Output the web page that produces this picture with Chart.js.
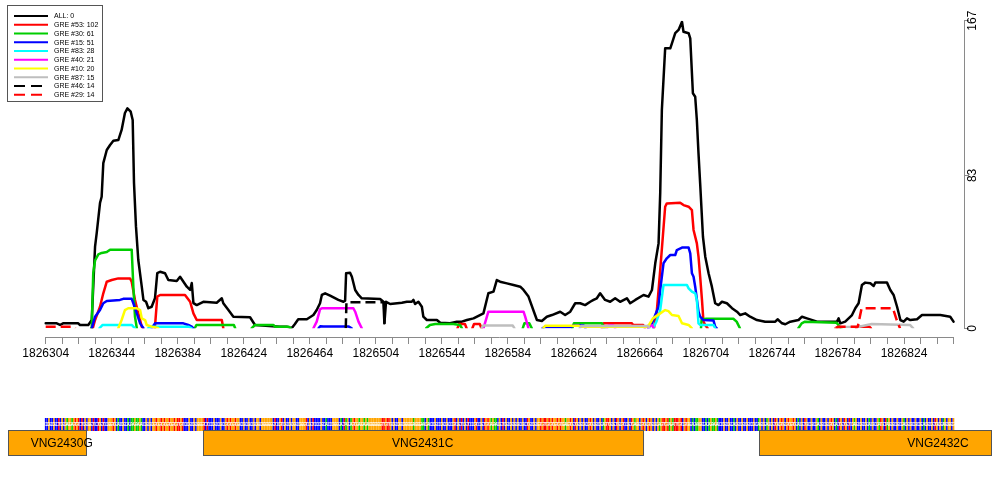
<!DOCTYPE html>
<html><head><meta charset="utf-8">
<script src="https://cdn.jsdelivr.net/npm/chart.js@4.4.1/dist/chart.umd.min.js"></script>
<style>html,body{margin:0;padding:0;background:#fff}#wrap{width:1000px;height:500px;position:relative}</style>
</head><body><div id="wrap"><canvas id="c" width="1000" height="500"></canvas></div>
<script>
// ---------- DATA ----------
const START = 1826304;                 // genomic position of window start (offsets below are bp from START)
const xTickLabels = [1826304,1826344,1826384,1826424,1826464,1826504,1826544,1826584,1826624,1826664,1826704,1826744,1826784,1826824];
const xTickFirst = 1826304, xTickLast = 1826854, xTickStep = 10;
const yTicks = [0, 83, 167];

const seriesNames  = ['ALL','GRE #53','GRE #30','GRE #15','GRE #83','GRE #40','GRE #10','GRE #87','GRE #46','GRE #29'];
const seriesCounts = [0,102,61,51,28,21,20,15,14,14];

// [offset bp, coverage] ; each inner array is one continuous segment
const allCurve = [[[0,2.7],[6.7,2.7],[8.7,1.8],[10.5,2.7],[19.6,2.7],[20.8,1.8],[25.8,1.8],[27.9,4.5],[29.9,44.3],[30.9,51.7],[32.9,68],[33.9,71.4],[34.9,89.7],[37,96.8],[39,99.5],[41,101.8],[44,102.2],[46,107.7],[48,116.9],[49.5,119.4],[51.5,117.6],[52.7,113.1],[53.5,78.9],[54.7,55.2],[56.1,37.1],[58.2,22.6],[59.2,15.4],[60.8,14.4],[62.2,10.9],[64.2,11.7],[66.2,16.3],[67.6,29.9],[69.3,30.7],[72.3,29.9],[74.3,26.2],[79.4,25.7],[81.4,28],[85.5,22.6],[87.5,20.8],[88.5,24.6],[89.5,13.7],[91.5,12.6],[95.5,14.4],[103.6,13.9],[106.7,16.3],[107.6,13.6],[110.7,9.9],[113.7,6.3],[123.8,6],[126.8,1.8],[141.9,0.8],[146,0.9],[149,0],[151,2.3],[153,4.9],[158.2,4.9],[162.2,7.2],[164.2,9.9],[166.2,13.6],[167.3,18.1],[169.3,19],[172.3,17.7],[177.3,15.4],[180.4,14.4],[181.4,15],[182,29.9],[184.4,30.2],[185.5,28],[187.5,20.8],[189.5,18.1],[191.5,16.3],[202.6,15.9],[204.6,14.4],[205.2,2.7],[206.2,14.4],[208.7,13.2],[215.8,13.9],[218.8,14.4],[221.8,14.4],[222.8,15.4],[223.8,13.2],[225.8,14.4],[227.9,11.7],[228.8,6.3],[230.9,4.5],[237,4.5],[239,3],[245,2.7],[249.1,3.6],[252.1,3.6],[255.2,4.5],[259.2,5.4],[265.2,8.1],[268.2,19],[271.3,19.9],[273.3,26.2],[275.3,25.3],[279.4,24.4],[283.4,23.5],[287.5,22.6],[289.5,20.8],[292.5,17.2],[296.5,7.2],[297.6,4.5],[300.6,4],[303.6,6.3],[306.7,7.2],[311.7,9],[314.7,7.2],[317.8,9],[320.8,13.6],[323.8,13.6],[326.8,12.6],[329.9,14.4],[331.9,15.4],[333.9,16.3],[335.9,19],[338.9,15.4],[342,14.4],[345,16.3],[348,14.4],[352.1,16.3],[354.1,13.6],[357.2,15.4],[362.2,18.1],[365.2,17.2],[367.3,20.8],[369.3,35.3],[371.3,46.1],[372.3,73.3],[373.3,118.5],[375.3,152],[378.4,152],[379.4,154.7],[381.4,160.2],[383.4,162],[385.5,166.4],[386.4,161],[389.5,160.2],[390.5,157.4],[392.1,127.6],[393.5,125.7],[394.5,113.1],[395.5,95],[396.5,78.7],[398.2,49.7],[399.6,38.9],[401.6,29.9],[403.6,22.6],[405.6,13.6],[407.6,12.6],[409.7,14.4],[412.7,13.6],[415.8,10.9],[418.8,9],[420.8,7.2],[423.8,8.1],[426.8,6.3],[430.9,4.5],[435.9,3.6],[442,3.6],[443.4,4.9],[446.1,2.7],[448.1,2.2],[451.1,3.6],[456.1,4.5],[458.2,6.3],[461.2,5.4],[467.3,3.6],[479.4,3.6],[480.4,5.4],[481.4,2.7],[484.4,3.6],[488.5,7.2],[490.5,10.9],[492.5,13.6],[494.5,23.5],[496.5,24.8],[499.6,24.4],[501.6,23],[502.6,24.8],[509.7,24.8],[511.7,20.8],[513.7,18.1],[515.8,11.7],[517.8,4.5],[519.8,3.6],[521.8,5.4],[523.8,4.5],[527.9,4.9],[530.9,7.2],[542,7.2],[548,6.3],[550,3.6]]];

const gre53 = [
  [[28.5,0],[29.9,4.5],[32.9,11.7],[34.9,19],[37,25.3],[40,26.2],[44,27.1],[51.1,27.1],[52.1,25.3],[54.1,15.4],[56.1,8.1],[58.2,0.9],[59,0]],
  [[66,0],[66.2,0.9],[67.6,17.2],[69.3,18.1],[84.4,18.1],[87.5,14.4],[89.5,8.1],[91.5,4.5],[106.7,4.5],[107.6,0]],
  [[249.5,0],[250.5,2.3],[254,2.3],[255,0]],
  [[258.5,0],[259.5,2.3],[263,2.3],[264,0]],
  [[337,0],[338,2.8],[355,2.8],[356,1.8],[362,1.8],[363,0]],
  [[368.5,0],[370.3,9.9],[372.3,31.6],[375.3,66],[376.3,67.8],[384.4,68.2],[386.4,66.9],[389.5,66],[391.5,64.2],[392.5,53.4],[394.5,46.1],[395.5,38.9],[396.5,28],[397.6,15.4],[398.5,3.6],[399.6,1.8],[401,0]],
  [[478.5,0],[479.5,0.7],[481,0]],
  [[491,0],[492,0.9],[499,0.9],[500,0]]
];
const gre30 = [
  [[27.5,0],[27.9,0.9],[28.8,29.9],[29.9,36.8],[31.9,40.1],[33.9,40.9],[37,41.4],[39,42.7],[52.1,42.7],[53.1,22.6],[54.1,6.3],[55.2,0]],
  [[90.3,0],[91.3,1.8],[114,1.8],[114.8,0]],
  [[124.7,0],[126.8,1.8],[137.9,1.8],[138.9,0.9],[147,0.9],[148.5,0]],
  [[230.5,0],[232.8,1.8],[236,2.3],[247,2.3],[251,1.8],[252.2,0]],
  [[289,0],[290,2.7],[293,2.7],[294.5,0]],
  [[319,0],[320,2.7],[337,2.7],[338.5,0]],
  [[397,0],[397.4,4.9],[400.4,5.2],[416.6,5.2],[418.6,3.6],[420.6,0]],
  [[456,0],[458,2.7],[460,3.6],[479.2,3.0],[481.2,0.7],[482,0]]
];
const gre15 = [
  [[27.9,0],[29.9,6.3],[32.9,9.9],[34.9,13.6],[37,14.8],[45,15.4],[47,16],[52.1,16],[53.1,13.6],[55.2,8.1],[57.2,2.7],[59.2,0]],
  [[64.2,0],[66.2,2.7],[83.4,2.7],[86.4,1.8],[88.5,0.9],[89.5,0]],
  [[165.3,0],[166.3,1.1],[168.3,1],[183.4,1],[185.4,0]],
  [[301,0],[302,0.6],[318,0.6],[319.5,1.5],[326,1.5],[327,0]],
  [[365,0],[367.3,2.7],[369.3,7.2],[371.3,11.7],[372.3,20.8],[374.3,35.3],[376.3,38],[378.4,39.8],[381.4,39.8],[382.4,42.5],[385.5,43.8],[389.5,43.8],[390.5,40.7],[391.5,29.9],[392.5,28],[393.5,22.6],[395.5,9],[396.5,6.3],[398.5,4.5],[404.6,4.2],[405.6,0.9],[406.6,0]]
];
const gre83 = [
  [[32.5,0],[34.5,1.8],[52.1,1.8],[54.1,0]],
  [[62,0],[64.2,0.9],[86.4,0.9],[88.5,0]],
  [[367.9,0],[370,3.6],[372.3,9.9],[374.3,23.5],[388.5,23.5],[389.5,21.7],[391.5,19.9],[393.5,19],[394.5,15.4],[395.5,2.7],[396.5,1.8],[404.6,1.8],[405.6,0]]
];
const gre40 = [
  [[162.2,0],[164.2,3.6],[166.2,10.3],[167.3,10.9],[186.4,10.9],[187.5,9],[189.5,3.6],[191.5,0]],
  [[265.2,0],[267.3,6.3],[268.2,9],[289.5,9],[290.5,6.3],[292.5,0]],
  [[340,0],[341,1.5],[344,1.5],[345,0]],
  [[365,0],[366,1.5],[367.5,1.5],[368.3,0]]
];
const gre10 = [
  [[44,0],[46,4.5],[48,9.9],[50,10.9],[55.2,10.9],[57.2,9.9],[58.2,5.4],[60.2,4.5],[61.2,1.8],[64.2,0.9],[67.2,0.3],[68.2,0]],
  [[301.4,0],[302.6,1.4],[323,1.4],[324,0.9],[364,0.9],[365.5,1.8],[367.9,5.4],[372.3,8.1],[375.3,9.9],[377.3,9.3],[379.4,7.2],[383.4,6.7],[385.5,2.7],[389.5,1.8],[391.5,0]]
];
const gre87 = [
  [[264,0],[265,1.5],[283,1.5],[284,0]],
  [[323.5,0],[324.5,1.2],[365,1.2],[366,0]],
  [[479,0],[480,0.7],[492,0.7],[500.4,2.3],[523.6,1.8],[525.6,0]]
];
const gre46 = [
  [[181.8,0],[182.2,14.1],[205,14.1],[205.3,0]]
];
const gre29 = [
  [[0,0.9],[17,0.9],[18,0]],
  [[479,0],[480,0.9],[492,0.9],[494.3,10.9],[513.3,10.9],[515.6,4.5],[517.6,0]]
];
const seriesData = [allCurve, gre53, gre30, gre15, gre83, gre40, gre10, gre87, gre46, gre29];

// genomic sequence shown under the plot (first base at START)
const sequence = [
 "CCGCCGCCTCGC","GAGGAGTG","TCTCGC","GG","CTCCTGCTCC","GGGTG","CACCGCCAC","AAGAAGAC","CGCGCG","GTGGTGTGGTGGTG",
 "TTGT","CCCGCCGC","GGGG","TCTC","CCGCCCGCCG","TGTGGTGG","CCGCCGCCGC","GGCGGG","GGGG","CTCCGTCG","CCGCGGCC","GGGG",
 "TCGCTC","CCCGCCACCC","GGGG","CACTAGCAGT","GGAGGAGAGG","GGGGGG","TTGTTG","CGCCGGCG","GGGGGAGGGG","AACGAC",
 "CCGCCCGCCGCCCG","TCGCTCGCTC","CCGTCCGCTG","TGAGAA",
 "CGCTCGCCGCGC","GCCGCCTGCC","GCGG","TGTTGTGTGGTGT","GGAGG","TGCTGC","GCGCCGTG","CGCCGCAG","TTGCGCTG","CGTCCGCT",
 "GAGGCG","TGCGTGCGCGAG","TTGTAGAT","TTGTCGTG","GCACAAGGCCAC","AGAAGA","CCCGCCGCCACG","CCGCCGCCCGCC","AGCGCAGCGC",
 "TGCGTGCGTG","GTGCACGCTG","CCGCCGACGCCG","CGTGCACTGC","TGCTCGAG","CCGCCGCACGCC","GATGCTAGCG","CCGCCGACGC",
 "GCCGCCGCAC","GCCGCTGCGCAGCG","GCG"
].join('');

// genes: name, start, end, label position (bp)
const geneNames  = ['VNG2430G','VNG2431C','VNG2432C'];
const geneStart  = [1826150, 1826399.5, 1826736.3];
const geneEnd    = [1826329, 1826666.5, 1827000];
const geneLabelAt= [1826313.7, 1826532.4, 1826844.6];

// ---------- STYLE ----------
const FONT = '"Liberation Sans", Arial, Helvetica, sans-serif';
const seriesColors = ['#000000','#FF0000','#00CD00','#0000FF','#00FFFF','#FF00FF','#FFFF00','#BEBEBE','#000000','#FF0000'];
const seriesDashed = [false,false,false,false,false,false,false,false,true,true];
const baseColors = {A:'#00CD00', C:'#0000FF', G:'#FFA500', T:'#FF0000'};
const AXIS_GRAY = '#8a8a8a';
const X_MIN = 1826281.16, X_MAX = 1826860.35;
const Y_AXIS_AT = -4.56;

function toPoints(segs){
  const out = [];
  segs.forEach((seg, k) => {
    if (k > 0) out.push({x: START + seg[0][0], y: null});
    seg.forEach(p => out.push({x: START + p[0], y: p[1]}));
  });
  return out;
}

const datasets = seriesData.map((segs, i) => ({
  label: seriesNames[i] + ': ' + seriesCounts[i],
  data: toPoints(segs),
  borderColor: seriesColors[i],
  borderWidth: 2.5,
  borderDash: seriesDashed[i] ? [10,5] : [],
  borderCapStyle: seriesDashed[i] ? 'butt' : 'round',
  borderJoinStyle: 'round',
  pointRadius: 0,
  tension: 0,
  spanGaps: false,
  fill: false,
  order: -i
}));

const xTickValues = [];
for (let v = xTickFirst; v <= xTickLast; v += xTickStep) xTickValues.push(v);

const extras = {
  id: 'extras',
  afterDraw(chart){
    const ctx = chart.ctx, xs = chart.scales.x, ys = chart.scales.y;
    ctx.save();
    // x-axis line from first to last tick
    const ay = Math.round(ys.getPixelForValue(Y_AXIS_AT)) + 0.5;
    ctx.strokeStyle = AXIS_GRAY; ctx.lineWidth = 1;
    ctx.beginPath();
    ctx.moveTo(xs.getPixelForValue(xTickFirst), ay);
    ctx.lineTo(xs.getPixelForValue(xTickLast), ay);
    ctx.stroke();

    // legend
    ctx.fillStyle = '#fff';
    ctx.fillRect(7.5, 5.5, 95, 96);
    ctx.strokeStyle = '#555'; ctx.lineWidth = 1;
    ctx.strokeRect(7.5, 5.5, 95, 96);
    ctx.font = '7px ' + FONT;
    ctx.textBaseline = 'middle'; ctx.textAlign = 'left';
    chart.data.datasets.forEach((d, i) => {
      const yy = 16 + i * 8.75;
      ctx.strokeStyle = d.borderColor; ctx.lineWidth = 2;
      ctx.setLineDash(seriesDashed[i] ? [11,6] : []);
      ctx.lineCap = 'butt';
      ctx.beginPath(); ctx.moveTo(14, yy); ctx.lineTo(48, yy); ctx.stroke();
      ctx.setLineDash([]);
      ctx.fillStyle = '#000';
      ctx.fillText(d.label, 54, yy + 0.5);
    });

    // bottom panel clipped to region
    ctx.beginPath(); ctx.rect(8, 380, 984, 100); ctx.clip();
    // sequence strip
    const sTop = 418, sH = 13;
    for (let i = 0; i < sequence.length; i++) {
      const b = sequence[i];
      const x0 = xs.getPixelForValue(START + i - 0.5), x1 = xs.getPixelForValue(START + i + 0.5);
      ctx.fillStyle = baseColors[b];
      ctx.fillRect(x0, sTop, x1 - x0, sH);
    }
    ctx.fillStyle = '#fff';
    ctx.font = '5px ' + FONT;
    ctx.textAlign = 'center'; ctx.textBaseline = 'middle';
    for (let i = 0; i < sequence.length; i++) {
      ctx.fillText(sequence[i], xs.getPixelForValue(START + i), sTop + sH / 2);
    }
    // genes
    const lo = xs.getValueForPixel(8), hi = xs.getValueForPixel(992);
    ctx.font = '12px ' + FONT;
    ctx.textAlign = 'center'; ctx.textBaseline = 'middle';
    for (let g = 0; g < geneNames.length; g++) {
      const a = xs.getPixelForValue(Math.max(geneStart[g], lo));
      const b = xs.getPixelForValue(Math.min(geneEnd[g], hi));
      ctx.fillStyle = '#FFA500';
      ctx.fillRect(a, 431, b - a, 25);
      ctx.strokeStyle = '#555'; ctx.lineWidth = 1;
      ctx.strokeRect(Math.round(a) + 0.5, 430.5, Math.round(b - a) - 1, 25);
    }
    for (let g = 0; g < geneNames.length; g++) {
      ctx.fillStyle = '#000';
      ctx.fillText(geneNames[g], xs.getPixelForValue(geneLabelAt[g]), 443.5);
    }
    ctx.restore();
  }
};

new Chart(document.getElementById('c'), {
  type: 'line',
  data: { datasets },
  options: {
    responsive: false,
    animation: false,
    events: [],
    layout: { padding: { left: 8, right: 0, top: 20.7, bottom: 171.7 } },
    plugins: { legend: { display: false }, tooltip: { enabled: false } },
    scales: {
      x: {
        type: 'linear', min: X_MIN, max: X_MAX,
        position: { y: Y_AXIS_AT },
        afterBuildTicks: s => { s.ticks = xTickValues.map(v => ({ value: v })); },
        border: { display: false },
        grid: { drawOnChartArea: false, drawTicks: true, tickLength: 7, color: AXIS_GRAY, lineWidth: 1 },
        ticks: { autoSkip: false, maxRotation: 0, minRotation: 0, padding: 3, color: '#000',
                 font: { size: 12, family: FONT },
                 callback: v => xTickLabels.includes(v) ? String(v) : '' }
      },
      y: {
        type: 'linear', position: 'right', min: 0, max: 167,
        afterBuildTicks: s => { s.ticks = yTicks.map(v => ({ value: v })); },
        afterFit: s => { s.width = 36; },
        border: { display: true, color: AXIS_GRAY, width: 1 },
        grid: { drawOnChartArea: false, drawTicks: true, tickLength: 5, color: AXIS_GRAY, lineWidth: 1 },
        ticks: { minRotation: 90, maxRotation: 90, crossAlign: 'center', padding: -6, color: '#000',
                 font: { size: 12, family: FONT }, callback: v => String(v) }
      }
    }
  },
  plugins: [extras]
});
</script>
</body></html>
